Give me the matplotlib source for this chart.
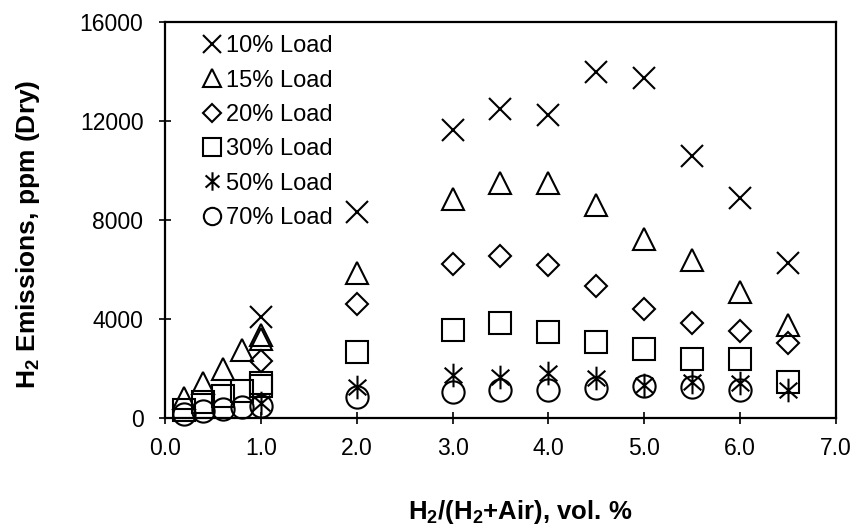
import matplotlib
matplotlib.use("Agg")
import matplotlib.pyplot as plt
from matplotlib.path import Path
from matplotlib.ticker import FormatStrFormatter, FixedLocator

plt.rcParams['font.family'] = ['Liberation Sans', 'DejaVu Sans']
plt.rcParams['mathtext.fontset'] = 'custom'
plt.rcParams['mathtext.rm'] = 'Liberation Sans:bold'
plt.rcParams['mathtext.bf'] = 'Liberation Sans:bold'
plt.rcParams['mathtext.default'] = 'bf'

# ---- data ----
x10 = [1.0, 2.0, 3.0, 3.5, 4.0, 4.5, 5.0, 5.5, 6.0, 6.5]
y10 = [4070, 8320, 11650, 12500, 12250, 14000, 13750, 10600, 8900, 6250]

x15 = [0.2, 0.4, 0.6, 0.8, 1.0, 1.0, 2.0, 3.0, 3.5, 4.0, 4.5, 5.0, 5.5, 6.0, 6.5]
y15 = [800, 1400, 2000, 2750, 3350, 3200, 5870, 8850, 9500, 9500, 8600, 7250, 6380, 5100, 3750]

x20 = [1.0, 2.0, 3.0, 3.5, 4.0, 4.5, 5.0, 5.5, 6.0, 6.5]
y20 = [2300, 4620, 6230, 6560, 6200, 5350, 4400, 3820, 3520, 3020]

x30 = [0.2, 0.4, 0.6, 0.8, 1.0, 1.0, 2.0, 3.0, 3.5, 4.0, 4.5, 5.0, 5.5, 6.0, 6.5]
y30 = [330, 640, 900, 1080, 1430, 1300, 2680, 3550, 3850, 3480, 3080, 2800, 2400, 2370, 1460]

x50 = [1.0, 2.0, 3.0, 3.5, 4.0, 4.5, 5.0, 5.5, 6.0, 6.5]
y50 = [600, 1250, 1730, 1660, 1800, 1600, 1330, 1460, 1400, 1130]

x70 = [0.2, 0.4, 0.6, 0.8, 1.0, 2.0, 3.0, 3.5, 4.0, 4.5, 5.0, 5.5, 6.0]
y70 = [180, 280, 380, 430, 480, 850, 1060, 1150, 1150, 1200, 1290, 1260, 1150]

labels = ['10% Load', '15% Load', '20% Load', '30% Load', '50% Load', '70% Load']
x_ticks = [0, 1, 2, 3, 4, 5, 6, 7]
y_ticks = [0, 4000, 8000, 12000, 16000]

# asterisk marker: vertical line + X
ast = Path([(0, -1), (0, 1), (-0.75, -0.66), (0.75, 0.66), (-0.75, 0.66), (0.75, -0.66)],
           [Path.MOVETO, Path.LINETO, Path.MOVETO, Path.LINETO, Path.MOVETO, Path.LINETO])

fig = plt.figure(figsize=(8.57, 5.29), dpi=100)
ax = fig.add_axes([165/857, 1 - 418/529, (836 - 165)/857, (418 - 22)/529])

series = [
    (x10, y10, 'x', 16),
    (x15, y15, '^', 16),
    (x20, y20, 'D', 11.5),
    (x30, y30, 's', 16),
    (x50, y50, ast, 17),
    (x70, y70, 'o', 16),
]
for (xs, ys, m, ms), lab in zip(series, labels):
    ax.plot(xs, ys, linestyle='none', marker=m, markersize=ms,
            markerfacecolor='none', markeredgecolor='black',
            markeredgewidth=1.5, color='black', label=lab, clip_on=False)

ax.set_xlim(0, 7)
ax.set_ylim(0, 16000)
ax.xaxis.set_major_locator(FixedLocator(x_ticks))
ax.yaxis.set_major_locator(FixedLocator(y_ticks))
ax.xaxis.set_major_formatter(FormatStrFormatter('%.1f'))
ax.tick_params(direction='inout', length=9, width=1.2, labelsize=16.5)
ax.tick_params(axis='y', pad=11)
ax.tick_params(axis='x', pad=9)
for s in ax.spines.values():
    s.set_linewidth(1.6)

ax.set_xlabel(r'H$_2$/(H$_2$+Air), vol. %', fontsize=18.5, fontweight='bold')
ax.set_ylabel(r'H$_2$ Emissions, ppm (Dry)', fontsize=19, fontweight='bold')
ax.xaxis.label.set_verticalalignment('baseline')
ax.yaxis.label.set_verticalalignment('baseline')
ax.xaxis.set_label_coords((520 - 165) / 671, (418 - 519) / 396)
ax.yaxis.set_label_coords((35 - 165) / 671, (418 - 234) / 396)

leg = ax.legend(loc='upper left', bbox_to_anchor=(0.045, 0.99), frameon=False,
                fontsize=17, markerscale=0.78, handlelength=0.6, handletextpad=0.3,
                labelspacing=0.52, borderaxespad=0)

fig.savefig('out.png', dpi=100)
